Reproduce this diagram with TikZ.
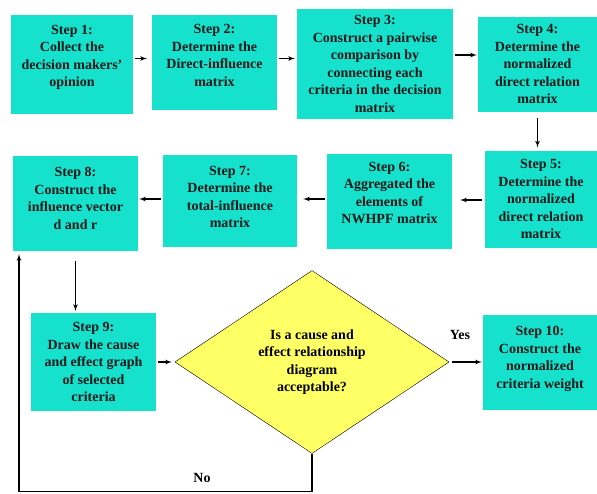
\documentclass[tikz,border=0pt]{standalone}
\usepackage{fontspec}
\setmainfont{Liberation Serif}
\usepackage{tikz}
\usetikzlibrary{arrows}
\usetikzlibrary{positioning}
\usetikzlibrary{shapes.geometric}
\definecolor{stepteal}{RGB}{22,225,204}
\definecolor{askyellow}{RGB}{255,255,102}
\tikzstyle{every node}+=[inner sep=0pt]
\tikzstyle{block} = [rectangle, fill=stepteal, font=\bfseries\fontsize{14}{17.5}\selectfont, text=black!90, align=center, minimum width=125pt, minimum height=95pt]
\tikzstyle{decision} = [diamond, draw, fill=askyellow, font=\bfseries\fontsize{14}{17.5}\selectfont, align=center, minimum width=274pt, minimum height=183pt]
\tikzstyle{line} = [draw, line width=1.2pt, -latex']
\tikzstyle{answer} = [font=\bfseries\fontsize{14}{17}\selectfont]

\begin{document}
\begin{tikzpicture}[x=1pt, y=-1pt, node distance=150pt]
            \useasboundingbox (0,0) rectangle (597,493);
            % Place nodes
            \node [block, minimum width=122pt, minimum height=99pt, text depth=17pt] (s1) at (72,64.5) {Step 1:\\Collect the\\decision makers’\\opinion};
            \node [block, right of=s1, node distance=142.5pt, yshift=2pt, text depth=14pt] (s2) {Step 2:\\Determine the\\Direct-influence\\matrix};
            \node [block, right of=s2, node distance=160.5pt, yshift=-1.5pt, minimum width=156pt, minimum height=110pt] (s3) {Step 3:\\Construct a pairwise\\comparison by\\connecting each\\criteria in the decision\\matrix};
            \node [block, right of=s3, node distance=162.5pt, minimum width=119pt] (s4) {Step 4:\\Determine the\\normalized\\direct relation\\matrix};
            \node [block, below of=s4, node distance=135pt, xshift=3.5pt, minimum width=112pt, minimum height=97pt] (s5) {Step 5:\\Determine the\\normalized\\direct relation\\matrix};
            \node [block, left of=s5, node distance=151.5pt, yshift=-2pt, text depth=16pt] (s6) {Step 6:\\Aggregated the\\elements of\\NWHPF matrix};
            \node [block, left of=s6, node distance=159.5pt, minimum width=134pt, minimum height=92pt, text depth=8pt] (s7) {Step 7:\\Determine the\\total-influence\\matrix};
            \node [block, left of=s7, node distance=154.5pt, yshift=-2.5pt, text depth=10pt] (s8) {Step 8:\\Construct the\\influence vector\\d and r};
            \node [block, below of=s8, node distance=158.5pt, xshift=18pt, minimum height=98pt] (s9) {Step 9:\\Draw the cause\\and effect graph\\of selected\\criteria};
            \node [decision, right of=s9, node distance=218.5pt] (ask) {Is a cause and\\effect relationship\\diagram\\acceptable?};
            \node [block, right of=ask, node distance=228pt, minimum width=114pt, text depth=9pt] (s10) {Step 10:\\Construct the\\normalized\\criteria weight};
            \node [answer] (yes) at (460,335) {Yes};
            \node [answer] (no) at (202,478) {No};
            \coordinate (turn) at (19,491.5);
            % Draw edges
            \path [line, shorten <=2pt, shorten >=5pt] ([yshift=6pt]s1.east) -- ([yshift=6pt]s1.east -| s2.west);
            \path [line, shorten <=2pt, shorten >=2pt] ([yshift=4pt]s2.east) -- ([yshift=4pt]s2.east -| s3.west);
            \path [line, shorten <=2pt, shorten >=1pt] ([yshift=9pt]s3.east) -- ([yshift=9pt]s3.east -| s4.west);
            \path [line, shorten <=6pt, shorten >=3pt] (s4.south) -- (s4.south |- s5.north);
            \path [line, shorten <=3pt, shorten >=8pt] ([yshift=-1pt]s5.west) -- ([yshift=-1pt]s5.west -| s6.east);
            \path [line, shorten <=2pt, shorten >=6pt] ([yshift=2pt]s6.west) -- ([yshift=2pt]s6.west -| s7.east);
            \path [line, shorten <=2pt, shorten >=1pt] ([yshift=2pt]s7.west) -- ([yshift=2pt]s7.west -| s8.east);
            \path [line, shorten <=10pt, shorten >=2pt] (s8.south) -- (s8.south |- s9.north);
            \path [line, shorten <=2pt, shorten >=3pt] (s9.east) -- (ask.west);
            \path [line, shorten <=3pt, shorten >=1pt] (ask.east) -- (s10.west);
            \path [line, shorten >=3pt, -latex'] (ask.south) |- (turn) -- (turn |- s8.south);
          \end{tikzpicture}
\end{document}
